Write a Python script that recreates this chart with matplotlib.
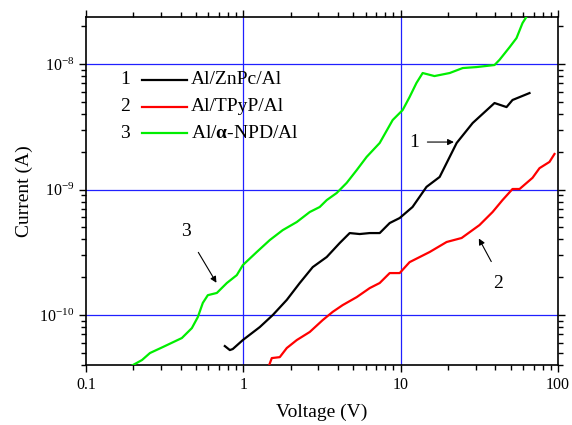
import numpy as np
import matplotlib
matplotlib.use('Agg')
import matplotlib.pyplot as plt
from matplotlib.ticker import LogLocator, NullFormatter, FixedFormatter, FixedLocator

plt.rcParams['font.family'] = ['Liberation Serif', 'DejaVu Serif']
plt.rcParams['mathtext.fontset'] = 'custom'
plt.rcParams['mathtext.rm'] = 'Liberation Serif'
plt.rcParams['mathtext.it'] = 'Liberation Serif:italic'
plt.rcParams['mathtext.bf'] = 'Liberation Serif:bold'
plt.rcParams['axes.unicode_minus'] = False

# curve 1: Al/ZnPc/Al
v_znpc = [0.763, 0.821, 0.857, 0.993, 1.273, 1.539, 1.889, 2.284, 2.762, 3.39, 4.10,
          4.745, 5.49, 6.36, 7.36, 8.52, 9.86, 11.9, 14.6, 17.7, 22.7, 28.7, 39.5,
          47.1, 51.4, 65.9]
i_znpc = [5.66e-11, 5.26e-11, 5.36e-11, 6.32e-11, 8.02e-11, 1.0e-10, 1.32e-10, 1.80e-10,
          2.41e-10, 2.90e-10, 3.75e-10, 4.50e-10, 4.42e-10, 4.50e-10, 4.50e-10, 5.41e-10,
          5.93e-10, 7.26e-10, 1.05e-9, 1.26e-9, 2.35e-9, 3.39e-9, 4.89e-9, 4.54e-9,
          5.17e-9, 5.87e-9]

# curve 2: Al/TPyP/Al
v_tpyp = [1.45, 1.517, 1.705, 1.889, 2.187, 2.644, 3.197, 3.70, 4.28, 5.26, 6.36, 7.36,
          8.52, 9.86, 11.4, 15.3, 19.6, 24.4, 31.7, 38.4, 44.4, 51.4, 57.0, 68.9, 76.3,
          88.3, 95.0]
i_tpyp = [3.9e-11, 4.54e-11, 4.62e-11, 5.46e-11, 6.32e-11, 7.33e-11, 9.12e-11, 1.06e-10,
          1.20e-10, 1.39e-10, 1.64e-10, 1.80e-10, 2.16e-10, 2.16e-10, 2.64e-10, 3.18e-10,
          3.82e-10, 4.11e-10, 5.21e-10, 6.62e-10, 8.24e-10, 1.01e-9, 1.01e-9, 1.24e-9,
          1.48e-9, 1.66e-9, 1.92e-9]

# curve 3: Al/a-NPD/Al
v_npd = [0.192, 0.227, 0.255, 0.308, 0.407, 0.471, 0.514, 0.553, 0.595, 0.679, 0.786,
         0.909, 0.993, 1.218, 1.474, 1.781, 2.187, 2.644, 3.06, 3.39, 3.92, 4.54, 5.26,
         6.08, 7.36, 8.90, 10.3, 11.4, 12.6, 13.8, 16.4, 20.5, 24.8, 30.4, 39.5, 42.5,
         49.2, 54.5, 59.5, 64.0]
i_npd = [3.9e-11, 4.38e-11, 4.98e-11, 5.56e-11, 6.56e-11, 7.87e-11, 9.64e-11, 1.25e-10,
         1.44e-10, 1.50e-10, 1.80e-10, 2.08e-10, 2.50e-10, 3.18e-10, 3.96e-10, 4.75e-10,
         5.51e-10, 6.62e-10, 7.26e-10, 8.24e-10, 9.38e-10, 1.13e-9, 1.43e-9, 1.82e-9,
         2.35e-9, 3.58e-9, 4.30e-9, 5.46e-9, 7.06e-9, 8.48e-9, 8.02e-9, 8.48e-9, 9.29e-9,
         9.46e-9, 9.82e-9, 1.08e-8, 1.36e-8, 1.61e-8, 2.12e-8, 2.45e-8]

labels = ['Al/ZnPc/Al', 'Al/TPyP/Al', r'Al/$\mathbf{\alpha}$-NPD/Al']
colors = ['black', '#ff0000', '#00ee00']
x_ticks = [0.1, 1, 10, 100]
x_ticklabels = ['0.1', '1', '10', '100']

fig = plt.figure(figsize=(5.72, 4.25), dpi=100)
ax = fig.add_axes([0.1503, 0.1412, 0.8252, 0.8188])
ax.set_xscale('log')
ax.set_yscale('log')
ax.set_xlim(0.1, 100)
ax.set_ylim(4.0e-11, 2.37e-8)

for d in [1, 10]:
    ax.axvline(d, color='#2020ff', lw=0.9, zorder=1)
for d in [1e-10, 1e-9, 1e-8]:
    ax.axhline(d, color='#2020ff', lw=0.9, zorder=1)

series = [(v_znpc, i_znpc), (v_tpyp, i_tpyp), (v_npd, i_npd)]
for (v, i), c in zip(series, colors):
    ax.plot(v, i, color=c, lw=1.6, zorder=3)

ax.xaxis.set_major_locator(FixedLocator(x_ticks))
ax.xaxis.set_major_formatter(FixedFormatter(x_ticklabels))
ax.xaxis.set_minor_locator(LogLocator(base=10, subs=np.arange(2, 10)))
ax.xaxis.set_minor_formatter(NullFormatter())
ax.yaxis.set_minor_locator(LogLocator(base=10, subs=np.arange(2, 10)))
ax.yaxis.set_minor_formatter(NullFormatter())
ax.tick_params(which='both', direction='out', top=True, right=True, labelsize=11.5, width=1)
ax.tick_params(which='major', length=5)
ax.tick_params(which='minor', length=3.5)
for s in ax.spines.values():
    s.set_linewidth(1.2)

ax.set_xlabel('Voltage (V)', fontsize=14, labelpad=8)
ax.set_ylabel('Current (A)', fontsize=14, labelpad=4)

# legend drawn by hand: number, line sample, label
for k, (lab, c) in enumerate(zip(labels, colors)):
    yy = 0.819 - k * 0.0767
    ax.text(0.083, yy, str(k + 1), transform=ax.transAxes, fontsize=14, ha='center', va='center')
    ax.plot([0.119, 0.215], [yy, yy], color=c, lw=1.6, transform=ax.transAxes)
    ax.text(0.223, yy, lab, transform=ax.transAxes, fontsize=14, ha='left', va='center')

arrow = dict(arrowstyle='-|>', color='black', lw=0.8, mutation_scale=9)
ax.annotate('', xy=(22.7, 2.39e-9), xytext=(14.2, 2.39e-9), arrowprops=arrow)
ax.text(12.1, 2.37e-9, '1', fontsize=14, ha='center', va='center')
ax.annotate('', xy=(30.8, 4.26e-10), xytext=(38.4, 2.55e-10), arrowprops=arrow)
ax.text(41.9, 1.77e-10, '2', fontsize=14, ha='center', va='center')
ax.annotate('', xy=(0.689, 1.73e-10), xytext=(0.507, 3.30e-10), arrowprops=arrow)
ax.text(0.431, 4.67e-10, '3', fontsize=14, ha='center', va='center')

fig.savefig('out.png', dpi=100)
